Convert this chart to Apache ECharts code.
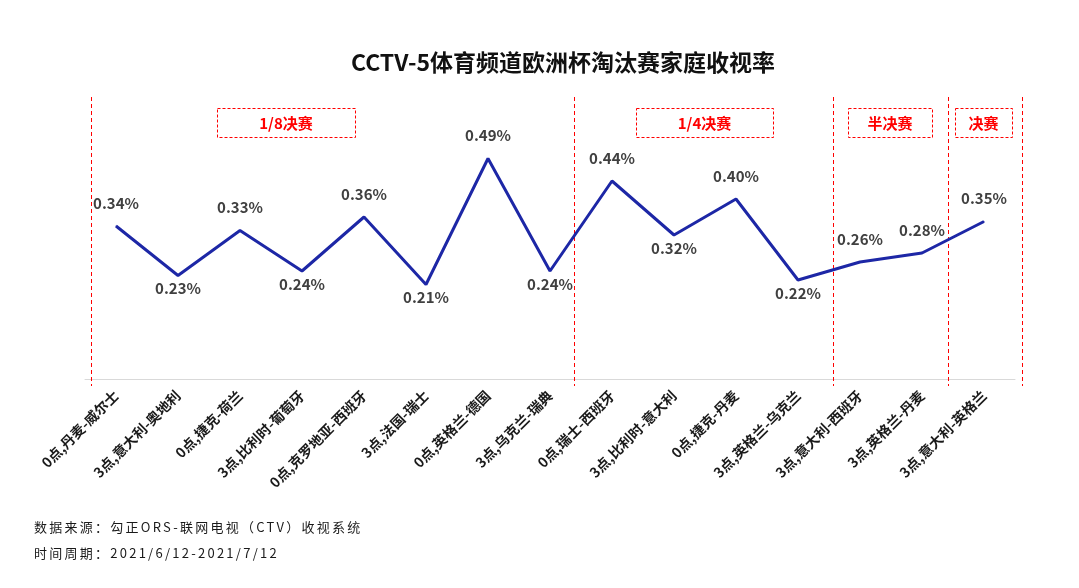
<!DOCTYPE html>
<html><head><meta charset="utf-8">
<script src="https://cdn.jsdelivr.net/npm/echarts@6/dist/echarts.min.js"></script>
<style>
html,body{margin:0;padding:0;background:#fff;}
#c{width:1079px;height:588px;position:relative;}
.foot{position:absolute;left:34px;font-family:"Noto Sans CJK SC","Noto Sans",sans-serif;font-size:13px;letter-spacing:2.25px;color:#1a1a1a;}
</style></head>
<body>
<div id="c"></div>
<div class="foot" style="top:517px;">数据来源：勾正ORS-联网电视（CTV）收视系统</div>
<div class="foot" style="top:543px;">时间周期：2021/6/12-2021/7/12</div>
<script>
const title = 'CCTV-5体育频道欧洲杯淘汰赛家庭收视率';
const categories = ['0点,丹麦-威尔士','3点,意大利-奥地利','0点,捷克-荷兰','3点,比利时-葡萄牙','0点,克罗地亚-西班牙','3点,法国-瑞士','0点,英格兰-德国','3点,乌克兰-瑞典','0点,瑞士-西班牙','3点,比利时-意大利','0点,捷克-丹麦','3点,英格兰-乌克兰','3点,意大利-西班牙','3点,英格兰-丹麦','3点,意大利-英格兰'];
const ratings = [0.34,0.23,0.33,0.24,0.36,0.21,0.49,0.24,0.44,0.32,0.40,0.22,0.26,0.28,0.35];
const phases = ['1/8决赛','1/4决赛','半决赛','决赛'];

const chart = echarts.init(document.getElementById('c'));
const font = '"Noto Sans CJK SC","Microsoft YaHei",sans-serif';

const seriesData = ratings.map((v,i)=>{
  const prev = i>0 ? ratings[i-1] : Infinity;
  const next = i<ratings.length-1 ? ratings[i+1] : Infinity;
  const isMin = v < prev && v < next;
  return {value:v, label:{position: isMin ? 'bottom':'top', distance: isMin ? 5 : 15}};
});

// decorative dashed separators and phase boxes
const sepX = [91, 574, 833, 948, 1022];
const boxes = [[217,355],[636,773],[848,932],[955,1012]];
const graphics = [];
sepX.forEach(x=>{
  graphics.push({type:'line', shape:{x1:x+0.5,y1:97,x2:x+0.5,y2:386}, style:{stroke:'#ff0000',lineWidth:1,lineDash:[4,3]}, z:1});
});
boxes.forEach((b,i)=>{
  graphics.push({type:'rect', shape:{x:b[0]+0.5,y:108.5,width:b[1]-b[0],height:29}, style:{fill:'none',stroke:'#ff0000',lineWidth:1,lineDash:[3,2]}, z:1});
  graphics.push({type:'text', x:(b[0]+b[1])/2, y:123, style:{text:phases[i], fill:'#ff0000', font:'bold 15px '+font, textAlign:'center', textVerticalAlign:'middle'}, z:2});
});

chart.setOption({
  backgroundColor:'#fff',
  animation:false,
  title:{text:title, left:558, top:46, textAlign:'center', textStyle:{fontFamily:font, fontWeight:'bold', fontSize:23, color:'#111'}},
  grid:{left:85, right:64, top:109, bottom:209},
  xAxis:{type:'category', data:categories, boundaryGap:true,
    axisLine:{show:true, lineStyle:{color:'#d9d9d9'}}, axisTick:{show:false},
    axisLabel:{rotate:45, interval:0, margin:14, fontFamily:font, fontWeight:'bold', fontSize:14, color:'#1a1a1a'}},
  yAxis:{type:'value', min:0, max:0.6, show:false, splitLine:{show:false}},
  series:[{type:'line', data:seriesData, symbol:'circle', symbolSize:1, showSymbol:true,
    itemStyle:{color:'#1d27a6'}, lineStyle:{color:'#1d27a6', width:3},
    label:{show:true, formatter:p=>p.value.toFixed(2)+'%', fontFamily:font, fontWeight:'bold', fontSize:15, color:'#404040'}}],
  graphic:graphics
});
</script>
</body></html>
